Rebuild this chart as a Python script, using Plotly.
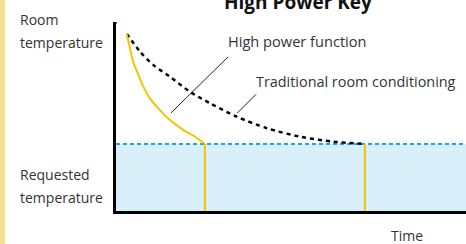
import plotly.graph_objects as go

# Data (time units, temperature units)
hp_time = [0.31, 0.40, 0.49, 0.64, 0.78, 0.97, 1.21, 1.54, 1.92, 2.26, 2.54]
hp_temp = [9.35, 8.61, 7.90, 7.20, 6.58, 5.96, 5.43, 4.81, 4.29, 3.93, 3.55]

trad_time = [0.31, 0.69, 1.07, 1.54, 2.11, 2.69, 3.45, 4.31, 5.26, 6.21, 7.11]
trad_temp = [9.37, 8.43, 7.72, 7.11, 6.31, 5.70, 4.99, 4.38, 3.93, 3.67, 3.55]

requested_temp = 3.55
time_range = [0, 10]
temp_range = [0, 10]
hp_end = 2.54
trad_end = 7.11

leader1_t = [1.57, 3.20]
leader1_T = [5.19, 8.15]
leader2_t = [3.46, 4.00]
leader2_T = [5.17, 6.17]

title = "High Power Key"
label_hp = "High power function"
label_trad = "Traditional room conditioning"

FONT = "Open Sans"
TXT = "#333333"
YEL = "#F5C400"
BLUE = "#1EA5E2"
FILL = "#D8EEF9"

fig = go.Figure()

# requested zone fill
fig.add_trace(go.Scatter(x=time_range, y=[requested_temp, requested_temp], mode="lines",
                         line=dict(color=BLUE, width=2, dash="4px,3px"),
                         fill="tozeroy", fillcolor=FILL, hoverinfo="skip"))

# vertical yellow lines
fig.add_trace(go.Scatter(x=[hp_end, hp_end], y=[0, requested_temp], mode="lines",
                         line=dict(color=YEL, width=2), hoverinfo="skip"))
fig.add_trace(go.Scatter(x=[trad_end, trad_end], y=[0, requested_temp], mode="lines",
                         line=dict(color=YEL, width=2), hoverinfo="skip"))

# traditional curve
fig.add_trace(go.Scatter(x=trad_time, y=trad_temp, mode="lines",
                         line=dict(color="black", width=2.5, dash="4px,4px", shape="spline", smoothing=0.8)))
# high power curve
fig.add_trace(go.Scatter(x=hp_time, y=hp_temp, mode="lines",
                         line=dict(color=YEL, width=2, shape="spline", smoothing=0.6)))

# leader lines
fig.add_trace(go.Scatter(x=leader1_t, y=leader1_T, mode="lines",
                         line=dict(color="#222222", width=1)))
fig.add_trace(go.Scatter(x=leader2_t, y=leader2_T, mode="lines",
                         line=dict(color="#222222", width=1)))

# arrow head on y axis
fig.add_trace(go.Scatter(x=[0], y=[temp_range[1] + 0.05], mode="markers",
                         marker=dict(symbol="triangle-up", size=9, color=YEL),
                         cliponaxis=False))
fig.add_trace(go.Scatter(x=[0], y=[temp_range[1] - 0.05], mode="markers",
                         marker=dict(symbol="circle", size=2, color="#E03020"),
                         cliponaxis=False))

ann = []
def A(text, x, y, xa="left", size=14, bold=False, xref="paper", yref="paper"):
    ann.append(dict(text=f"<b>{text}</b>" if bold else text, x=x, y=y, xref=xref, yref=yref,
                    xanchor=xa, yanchor="middle", showarrow=False,
                    font=dict(family=FONT, size=size, color="#111111" if bold else TXT)))

A(label_hp, 3.14, 8.99, xref="x", yref="y", size=14.6)
A(label_trad, 3.94, 6.83, xref="x", yref="y", size=14.4)
A("Room", -0.28, (211 - 19) / 189)
A("temperature", -0.28, (211 - 42) / 189)
A("Requested", -0.28, (211 - 174) / 189)
A("temperature", -0.28, (211 - 197) / 189)
A("Time", (407 - 116) / 350, (211 - 235) / 189, xa="center")
A(title, (298 - 116) / 350, (211 - 2.5) / 189, xa="center", size=19, bold=True)

fig.update_layout(
    width=466, height=244,
    margin=dict(l=116, r=0, t=22, b=33),
    paper_bgcolor="white", plot_bgcolor="white",
    showlegend=False,
    annotations=ann,
    shapes=[dict(type="rect", xref="paper", yref="paper", x0=-116 / 350, x1=-111 / 350,
                 y0=-33 / 189, y1=1 + 22 / 189, fillcolor="#F9DE8C", line_width=0, layer="below")],
)
fig.update_xaxes(range=time_range, showgrid=False, zeroline=False, showticklabels=False,
                 ticks="", showline=True, linecolor="black", linewidth=2.5)
fig.update_yaxes(range=temp_range, showgrid=False, zeroline=False, showticklabels=False,
                 ticks="", showline=True, linecolor="black", linewidth=2.5)

fig.write_html("out.html", config={"displayModeBar": False},
               post_script="document.body.style.margin='0';document.body.style.overflow='hidden';")
